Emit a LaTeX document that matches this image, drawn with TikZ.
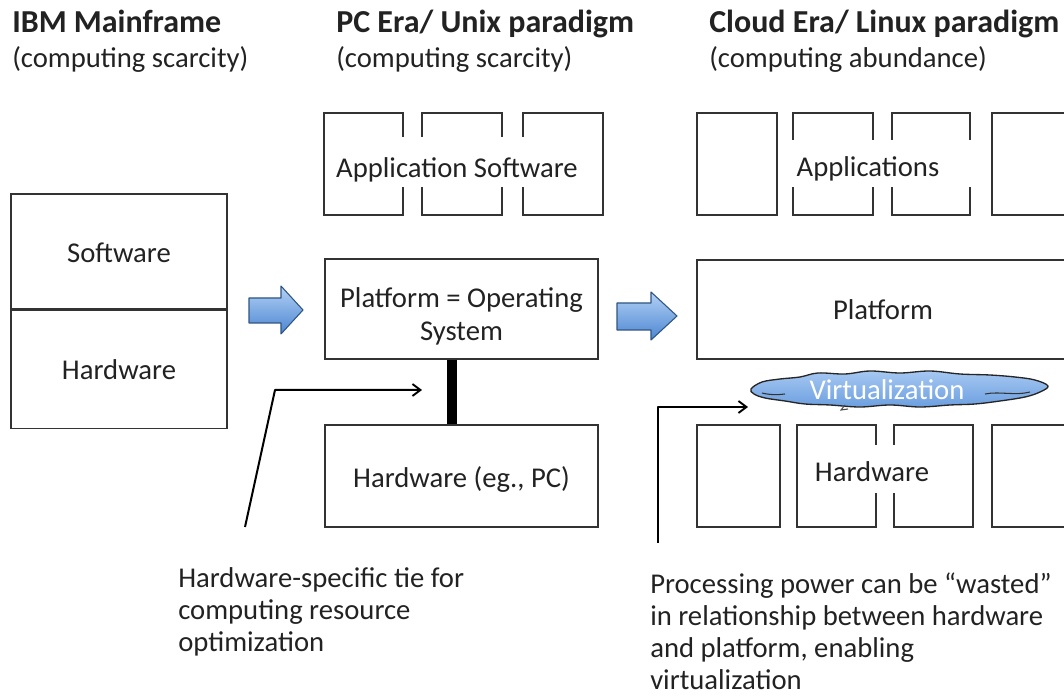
\documentclass[tikz,border=0pt]{standalone}
\usepackage{fontspec}
\setmainfont{Carlito}
\usetikzlibrary{arrows.meta}
\definecolor{ink}{HTML}{222222}
\definecolor{edge}{HTML}{333333}
\definecolor{arrowtop}{HTML}{B3D1F5}
\definecolor{arrowbot}{HTML}{4C86D2}
\definecolor{arrowedge}{HTML}{2F5583}
\definecolor{cloudtop}{HTML}{A6C8F2}
\definecolor{cloudbot}{HTML}{6C9FE0}
\tikzset{
  body/.style={font=\fontsize{21.5}{24}\selectfont, text=ink},
  title/.style={font=\fontsize{24}{26}\selectfont\bfseries, text=ink, anchor=base west, inner sep=0},
  subtitle/.style={body, anchor=base west, inner sep=0},
  box/.style={draw=edge, line width=1pt, inner sep=0},
  label/.style={body, anchor=base, inner sep=0},
  conn/.style={draw=black, line width=1.5pt, line join=round},
  tip/.style={-{Straight Barb[length=6pt,width=9pt,line width=1.4pt]}},
  bluearrow/.style={draw=arrowedge, line width=0.8pt, top color=arrowtop, bottom color=arrowbot, line join=round},
  note/.style={body, align=left, anchor=north west, inner sep=0}
}
\begin{document}
\begin{tikzpicture}[x=0.75pt,y=-0.75pt]
\useasboundingbox (0,0) rectangle (1064,698);
\clip (0,0) rectangle (1064,698);

% titles
\node[title] (t1) at (12,33) {IBM Mainframe};
\node[subtitle] (s1) at (12,68) {(computing scarcity)};
\node[title] (t2) at (336,33) {PC Era/ Unix paradigm};
\node[subtitle] (s2) at (336,68) {(computing scarcity)};
\node[title] (t3) at (709,33) {Cloud Era/ Linux paradigm};
\node[subtitle] (s3) at (709,68) {(computing abundance)};

% mainframe
\node[box, minimum width=216*0.75pt, minimum height=115*0.75pt] (msw) at (119,251.5) {};
\node[box, minimum width=216*0.75pt, minimum height=118*0.75pt, anchor=north] (mhw) at (msw.south) {};
\node[label] (mswtxt) at (119,263) {Software};
\node[label] (mhwtxt) at (119,380) {Hardware};

% blue arrows
\path[bluearrow] (249,298) -- (281,298) -- (281,286) -- (303,310) -- (281,334) -- (281,323) -- (249,323) -- cycle;
\path[bluearrow] (617,303) -- (651,303) -- (651,292) -- (677,316) -- (651,340) -- (651,330) -- (617,330) -- cycle;

% PC era
\node[box, minimum width=79*0.75pt, minimum height=102*0.75pt] (ap1) at (363.5,164) {};
\node[box, minimum width=80*0.75pt, minimum height=102*0.75pt] (ap2) at (462,164) {};
\node[box, minimum width=80*0.75pt, minimum height=102*0.75pt] (ap3) at (563,164) {};
\fill[white] (335,137) rectangle (590,187);
\node[label] (aptxt) at (457,178) {Application Software};

\node[box, minimum width=273*0.75pt, minimum height=100*0.75pt] (os) at (461.5,309) {};
\node[body, align=center, inner sep=0, font=\fontsize{21.5}{24.75}\selectfont] (ostxt) at (461.5,316.5) {Platform = Operating\\System};
\node[box, minimum width=273*0.75pt, minimum height=102*0.75pt] (hwpc) at (461.5,476) {};
\node[label] (hwpctxt) at (461.5,488) {Hardware (eg., PC)};
\coordinate (tie) at (452,0);
\draw[line width=7pt] (tie |- os.south) -- (tie |- hwpc.north);

% Cloud era
\node[box, minimum width=80*0.75pt, minimum height=102*0.75pt] (cp1) at (737,164) {};
\node[box, minimum width=80*0.75pt, minimum height=102*0.75pt] (cp2) at (833,164) {};
\node[box, minimum width=78*0.75pt, minimum height=102*0.75pt] (cp3) at (931,164) {};
\node[box, minimum width=80*0.75pt, minimum height=102*0.75pt] (cp4) at (1032,164) {};
\fill[white] (782,140) rectangle (985,187);
\node[label] (cptxt) at (868,177) {Applications};

\node[box, minimum width=373*0.75pt, minimum height=99*0.75pt] (plat) at (883.5,309.5) {};
\node[label] (plattxt) at (883,320) {Platform};

\node[box, minimum width=83*0.75pt, minimum height=102*0.75pt] (ch1) at (738.5,476) {};
\node[box, minimum width=79*0.75pt, minimum height=102*0.75pt] (ch2) at (836.5,476) {};
\node[box, minimum width=79*0.75pt, minimum height=102*0.75pt] (ch3) at (933.5,476) {};
\node[box, minimum width=80*0.75pt, minimum height=102*0.75pt] (ch4) at (1032,476) {};
\fill[white] (805,445) rectangle (965,493);
\node[label] (chtxt) at (872,482) {Hardware};

% virtualization cloud
\draw[draw=black!85, line width=1pt, top color=cloudtop, bottom color=cloudbot]
  plot[smooth cycle, tension=0.6] coordinates {
   (751,389) (762,382) (780,379) (800,377) (818,373) (845,374) (870,371)
   (900,373) (930,371) (960,374) (990,375) (1015,377) (1035,380) (1048,386)
   (1040,392) (1025,397) (1000,401) (975,404) (950,405) (920,407) (890,405)
   (860,407) (830,405) (805,404) (785,401) (765,398) (754,394)};
\draw[black!80, line width=0.8pt] (762,393) .. controls (770,395) and (778,395) .. (785,394);
\draw[black!80, line width=0.8pt] (985,394) .. controls (1000,391) and (1015,396) .. (1030,392);
\draw[black!70, line width=0.8pt] (845,405) -- (841,410) -- (848,409);
\node[label, text=white] (virttxt) at (887,400) {Virtualization};

% connectors
\coordinate (l0) at (245,527);
\coordinate (l1) at (275,390);
\coordinate (l2) at (422,390);
\draw[conn, tip] (l0) -- (l1) -- (l2);
\coordinate (r0) at (658,543);
\coordinate (r1) at (658,407);
\coordinate (r2) at (748,407);
\draw[conn, tip] (r0) -- (r1) -- (r2);

% notes
\node[note] (n1) at (178,567.5) {Hardware-specific tie for\\computing resource\\optimization};
\node[note] (n2) at (650,572.5) {Processing power can be “wasted”\\in relationship between hardware\\and platform, enabling\\virtualization};
\end{tikzpicture}
\end{document}
